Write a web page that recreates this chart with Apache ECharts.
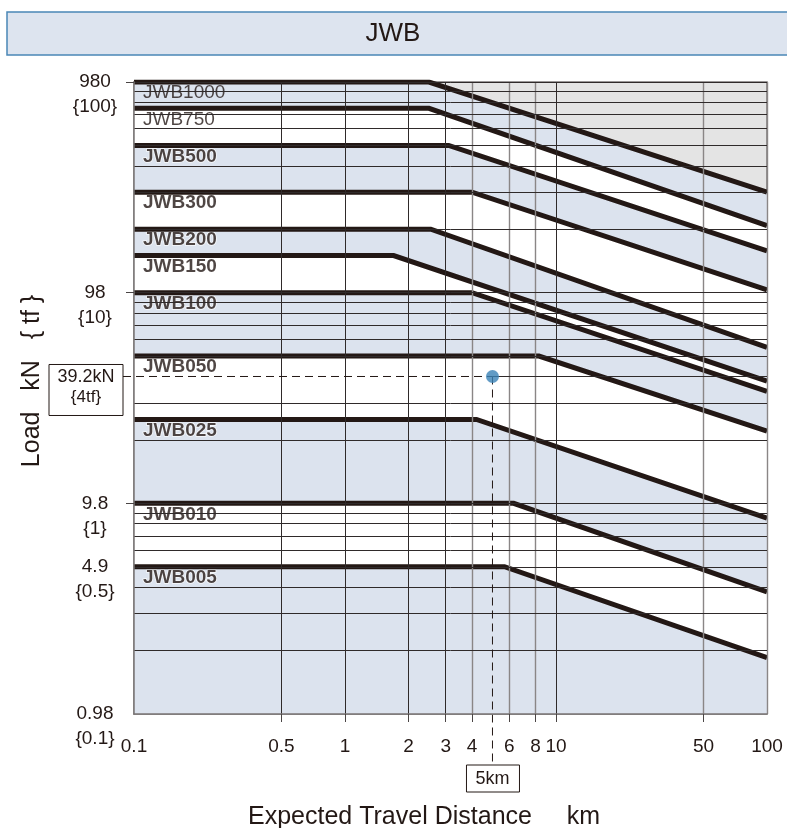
<!DOCTYPE html>
<html><head><meta charset="utf-8">
<script src="https://cdn.jsdelivr.net/npm/echarts@6/dist/echarts.min.js"></script>
<style>html,body{margin:0;padding:0;background:#fff}#c{width:787px;height:828px}</style>
</head><body><div id="c"></div>
<script>
// ---- data (loads in tf, distances in km) ----
const seriesNames = ['JWB1000','JWB750','JWB500','JWB300','JWB200','JWB150','JWB100','JWB050','JWB025','JWB010','JWB005'];
const ratedTf = [100, 75, 50, 30, 20, 15, 10, 5, 2.5, 1, 0.5];          // flat level
const breakKm = [2.5, 2.5, 3.1, 4, 2.55, 1.7, 4, 8.3, 4.2, 6.3, 5.7];    // where the line starts to fall
const endTf   = [30, 20.8, 15.8, 10.3, 5.5, 3.8, 3.4, 2.2, 0.85, 0.38, 0.185]; // load at 100 km
const bandFill = ['blue','white','blue','white','blue','white','blue','white','blue','white','blue'];
const xGrid = [0.5, 1, 2, 3, 4, 6, 8, 10, 50, 100];
const yGrid = [0.2,0.3,0.4,0.5,0.6,0.7,0.8,0.9,1,2,3,5,6,7,8,9,10,20,30,40,50,60,70,80,90,100];
const xTicks = [0.1, 0.5, 1, 2, 3, 4, 6, 8, 10, 50, 100];
const yTicksTf = [0.1, 0.5, 1, 10, 100];
const yTicksKN = ['0.98', '4.9', '9.8', '98', '980'];
const refKm = 5, refTf = 4;
const refLabelKN = '39.2kN', refLabelTf = '{4tf}', refLabelKm = '5km';

// ---- style ----
const INK = '#231815', BLUE = '#dce3ee', WHITE = '#ffffff', GRAY = '#e4e4e4';
const FONT = 'Liberation Sans';
const grayX = new Set([4, 6, 8, 50, 100]);

const chart = echarts.init(document.getElementById('c'), null, {renderer: 'canvas'});
const fmtNum = v => String(Number(Number(v).toPrecision(6)));

const series = [];
seriesNames.forEach((n, i) => {
  series.push({
    type: 'line', name: n + '_band', silent: true, animation: false, z: 1,
    data: [[0.1, ratedTf[i]], [breakKm[i], ratedTf[i]], [100, endTf[i]]],
    symbol: 'none', lineStyle: {width: 0},
    areaStyle: {color: bandFill[i] === 'blue' ? BLUE : WHITE, opacity: 1, origin: 'start'}
  });
});
// series labels
series.push({
  type: 'scatter', silent: true, animation: false, z: 2, clip: false, symbolSize: 0,
  data: ratedTf.map((v, i) => ({value: [0.1, v], name: seriesNames[i],
    label: i < 2 ? {fontWeight: 'normal', textBorderWidth: 0} : {}})),
  label: {show: true, position: 'right', distance: 0, offset: [9, 11], formatter: p => p.name,
    fontFamily: FONT, fontSize: 19, fontWeight: 'bold', color: INK,
    textBorderColor: '#fff', textBorderWidth: 1.5}
});
// grid lines
const gridLines = [];
xGrid.forEach(v => gridLines.push({xAxis: v, lineStyle: {color: grayX.has(v) ? '#8a8686' : '#2f2a2a', width: grayX.has(v) ? 1.4 : 1}}));
yGrid.forEach(v => gridLines.push({yAxis: v}));
gridLines.push([{coord: [refKm, refTf]}, {coord: [100, refTf]}]);
series.push({
  type: 'line', silent: true, animation: false, z: 3, data: [[0.1, 0.1]], symbol: 'none', lineStyle: {width: 0},
  markLine: {silent: true, animation: false, symbol: ['none', 'none'], label: {show: false},
    lineStyle: {color: '#2f2a2a', width: 1, type: 'solid'}, data: gridLines}
});
// rating curves
seriesNames.forEach((n, i) => {
  series.push({
    type: 'line', name: n, silent: true, animation: false, z: 4,
    data: [[0.1, ratedTf[i]], [breakKm[i], ratedTf[i]], [100, endTf[i]]],
    symbol: 'none', lineStyle: {color: INK, width: 5, join: 'miter', cap: 'butt'}
  });
});
// reference point
series.push({
  type: 'scatter', silent: true, animation: false, z: 6, data: [[refKm, refTf]],
  symbolSize: 13, itemStyle: {color: '#3a82b7'}
});

chart.setOption({
  animation: false,
  backgroundColor: '#fff',
  grid: {left: 134, right: 20, top: 82, bottom: 114, show: true, backgroundColor: GRAY, borderColor: '#7a7676', borderWidth: 1.5},
  xAxis: {
    type: 'log', logBase: 10, min: 0.1, max: 100, z: 10,
    splitLine: {show: false}, minorTick: {show: false},
    axisLine: {show: true, lineStyle: {color: '#7a7676', width: 1.5}},
    axisTick: {show: true, customValues: [0.5, 1, 2, 3, 4, 6, 8, 10, 50], length: 8, lineStyle: {color: '#4a4545', width: 1}},
    axisLabel: {customValues: xTicks, formatter: v => fmtNum(v), fontFamily: FONT, fontSize: 19, color: INK, margin: 23, hideOverlap: false}
  },
  yAxis: {
    type: 'log', logBase: 10, min: 0.1, max: 100, z: 10,
    splitLine: {show: false}, minorTick: {show: false},
    axisLine: {show: true, lineStyle: {color: '#7a7676', width: 1.5}},
    axisTick: {show: true, customValues: [1, 10, 100], length: 8, lineStyle: {color: '#4a4545', width: 1}},
    axisLabel: {customValues: yTicksTf, hideOverlap: false,
      formatter: v => {
        const k = yTicksTf.findIndex(t => Math.abs(t - v) / t < 1e-6);
        // empty first line keeps the kN value on the tick, the tf value below it
        return ' \n' + (k >= 0 ? yTicksKN[k] : fmtNum(v * 9.8)) + '\n{' + fmtNum(v) + '}';
      },
      align: 'center', margin: 39, lineHeight: 25,
      fontFamily: FONT, fontSize: 19, color: INK}
  },
  series: series
});

// annotations positioned through the chart's own scales
const pRef = chart.convertToPixel({gridIndex: 0}, [refKm, refTf]);
const pBot = chart.convertToPixel({gridIndex: 0}, [refKm, 0.1]);
const dash = {stroke: INK, lineWidth: 1, lineDash: [8, 5]};
const kBoxR = 123, kBoxL = 49;
const kmBoxTop = pBot[1] + 51;
chart.setOption({
  graphic: [
    {type: 'rect', z: 100, shape: {x: 7, y: 12, width: 800, height: 43}, style: {fill: '#dde4ef', stroke: '#4a87b6', lineWidth: 1.5}},
    {type: 'text', z: 101, x: 393, y: 34, style: {text: 'JWB', font: '26px "' + FONT + '"', fill: INK, align: 'center', verticalAlign: 'middle'}},
    {type: 'text', z: 101, x: 32, y: 381, rotation: Math.PI / 2, style: {text: 'Load   kN   { tf }', font: '25px "' + FONT + '"', fill: INK, align: 'center', verticalAlign: 'middle'}},
    {type: 'text', z: 101, x: 424, y: 817, style: {text: 'Expected Travel Distance     km', font: '25px "' + FONT + '"', fill: INK, align: 'center', verticalAlign: 'middle'}},
    {type: 'line', z: 5, shape: {x1: kBoxR, y1: pRef[1], x2: pRef[0], y2: pRef[1]}, style: dash},
    {type: 'line', z: 5, shape: {x1: pRef[0], y1: pRef[1], x2: pRef[0], y2: kmBoxTop}, style: dash},
    {type: 'rect', z: 101, shape: {x: kBoxL, y: pRef[1] - 12, width: kBoxR - kBoxL, height: 51}, style: {fill: '#fff', stroke: INK, lineWidth: 1}},
    {type: 'text', z: 102, x: (kBoxL + kBoxR) / 2, y: pRef[1] + 1, style: {text: refLabelKN, font: '18px "' + FONT + '"', fill: INK, align: 'center', verticalAlign: 'middle'}},
    {type: 'text', z: 102, x: (kBoxL + kBoxR) / 2, y: pRef[1] + 21, style: {text: refLabelTf, font: '17px "' + FONT + '"', fill: INK, align: 'center', verticalAlign: 'middle'}},
    {type: 'rect', z: 101, shape: {x: pRef[0] - 26, y: kmBoxTop, width: 53, height: 27}, style: {fill: '#fff', stroke: INK, lineWidth: 1}},
    {type: 'text', z: 102, x: pRef[0], y: kmBoxTop + 14, style: {text: refLabelKm, font: '18px "' + FONT + '"', fill: INK, align: 'center', verticalAlign: 'middle'}}
  ]
});
</script>
</body></html>
